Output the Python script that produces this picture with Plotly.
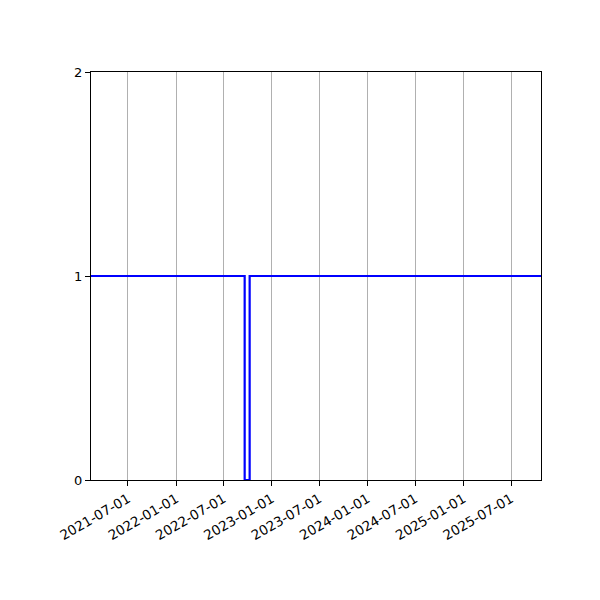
import plotly.graph_objects as go

dates = ["2021-01-01", "2022-09-19", "2022-10-08", "2025-12-31"]
values = [1, 0, 1, 1]
x_range = ["2021-02-10", "2025-10-23"]
tick_vals = ["2021-07-01", "2022-01-01", "2022-07-01", "2023-01-01", "2023-07-01",
             "2024-01-01", "2024-07-01", "2025-01-01", "2025-07-01"]

fig = go.Figure()
fig.add_trace(go.Scatter(x=dates, y=values, mode="lines", line_shape="hv",
                         line=dict(color="blue", width=2.2), showlegend=False))

fig.update_layout(
    width=600, height=600,
    margin=dict(l=83, r=67, t=64, b=128),
    paper_bgcolor="white", plot_bgcolor="white",
    font=dict(family="DejaVu Sans", size=13, color="black"),
)
fig.update_xaxes(
    range=x_range, tickvals=tick_vals, tickformat="%Y-%m-%d", tickangle=-30,
    tickfont=dict(size=13.5),
    showgrid=True, gridcolor="#b0b0b0", gridwidth=1,
    showline=True, linecolor="black", linewidth=1, mirror=True,
    ticks="outside", ticklen=5, tickcolor="black", zeroline=False,
)
fig.update_yaxes(
    range=[0, 2], tickvals=[0, 1, 2], showgrid=False,
    showline=True, linecolor="black", linewidth=1, mirror=True,
    ticks="outside", ticklen=5, tickcolor="black", zeroline=False,
)
fig.write_html("out.html")
